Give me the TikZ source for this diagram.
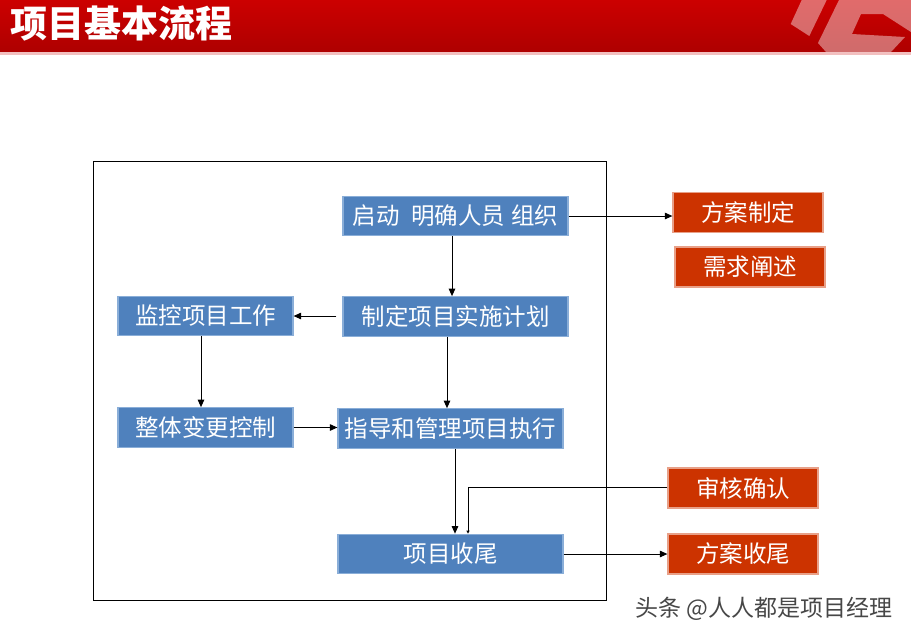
\documentclass[tikz,border=0pt]{standalone}
\usepackage{fontspec}
\setmainfont{Noto Sans CJK SC}
\usetikzlibrary{arrows.meta}
\definecolor{boxblue}{HTML}{4F81BD}
\definecolor{boxblueedge}{HTML}{8AAED8}
\definecolor{boxred}{HTML}{CC3300}
\definecolor{boxrededge}{HTML}{E8A088}
\definecolor{hdrtop}{HTML}{CC0000}
\definecolor{hdrbot}{HTML}{AE0000}
\tikzset{
  bluebox/.style={rectangle, fill=boxblue, draw=boxblueedge, line width=1.2pt, text=white,
    minimum width=#1, minimum height=39.5pt, inner sep=0pt, font=\fontsize{23.5}{25}\selectfont},
  bluebox/.default=225pt,
  redbox/.style={rectangle, fill=boxred, draw=boxrededge, line width=1.2pt, text=white,
    minimum width=150pt, minimum height=40pt, inner sep=0pt, font=\fontsize{23.5}{25}\selectfont},
  arr/.style={draw=black, line width=1pt, -{Triangle[length=7.5pt,width=6.5pt]}},
  arrsmall/.style={draw=black, line width=1pt, -{Triangle[length=3pt,width=3pt]}},
  deco/.style={fill=white, fill opacity=0.42, draw=none}
}
\begin{document}
\begin{tikzpicture}[x=1pt,y=-1pt]
\useasboundingbox (0,0) rectangle (911,641);
\fill[white] (0,0) rectangle (911,641);
% header
\shade[top color=hdrtop, bottom color=hdrbot] (0,0) rectangle (911,52);
\fill[white!75!hdrtop] (0,52) rectangle (911,54.5);
\fill[deco] (801.7,0) -- (826.7,0) -- (809.3,36) -- (790.7,24) -- cycle;
\fill[deco] (839,0) -- (911,0) -- (911,32) -- (883,14) -- (861,14) -- (852,34) -- (905,37) -- (891,52) -- (826,52) -- (818,43) -- cycle;
\node[anchor=west, inner sep=0pt, text=white, font=\fontsize{37}{38}\selectfont\bfseries] (title) at (10,23) {项目基本流程};
% frame
\node[draw=black, line width=0.9pt, minimum width=513pt, minimum height=439pt, inner sep=0pt] (frame) at (349.5,380.5) {};
% blue boxes
\node[bluebox] (B1) at (455.5,216) {启动\hspace{0.5em}明确人员\hspace{0.25em}组织};
\node[bluebox] (B2) at (455.5,316.5) {制定项目实施计划};
\node[bluebox=175pt] (B3) at (205.5,316) {监控项目工作};
\node[bluebox=175pt] (B4) at (205.5,427.5) {整体变更控制};
\node[bluebox] (B5) at (450.5,428.5) {指导和管理项目执行};
\node[bluebox] (B6) at (450.5,554) {项目收尾};
% red boxes
\node[redbox] (R1) at (748,212.5) {方案制定};
\node[redbox] (R2) at (750,267) {需求阐述};
\node[redbox] (R3) at (743,488) {审核确认};
\node[redbox] (R4) at (743,554) {方案收尾};
% connectors
\draw[arr] (B1.east) -- (B1.east -| R1.west);
\draw[arr] ([xshift=-3.5pt]B1.south) -- ([xshift=-3.5pt]B2.north);
\draw[arr] ([xshift=-6pt]B2.west |- B3.east) -- (B3.east);
\draw[arr] ([xshift=-4.5pt]B3.south) -- ([xshift=-4.5pt]B4.north);
\draw[arr] (B4.east) -- (B4.east -| B5.west);
\draw[arr] ([xshift=-8.5pt]B2.south) -- ([xshift=-8.5pt]B2.south |- B5.north);
\draw[arr] ([xshift=4.5pt]B5.south) -- ([xshift=4.5pt]B6.north);
\draw[arrsmall] ([yshift=1pt]R3.west) -| ([xshift=17.5pt]B6.north);
\draw[arr] (B6.east) -- (B6.east -| R4.west);
% watermark
\node[text=white, font=\fontsize{23}{25}\selectfont] (wmshadow) at (765,610) {头条 @人人都是项目经理};
\node[text=black!72, font=\fontsize{23}{25}\selectfont] (wm) at (764,609) {头条 @人人都是项目经理};
\end{tikzpicture}
\end{document}
